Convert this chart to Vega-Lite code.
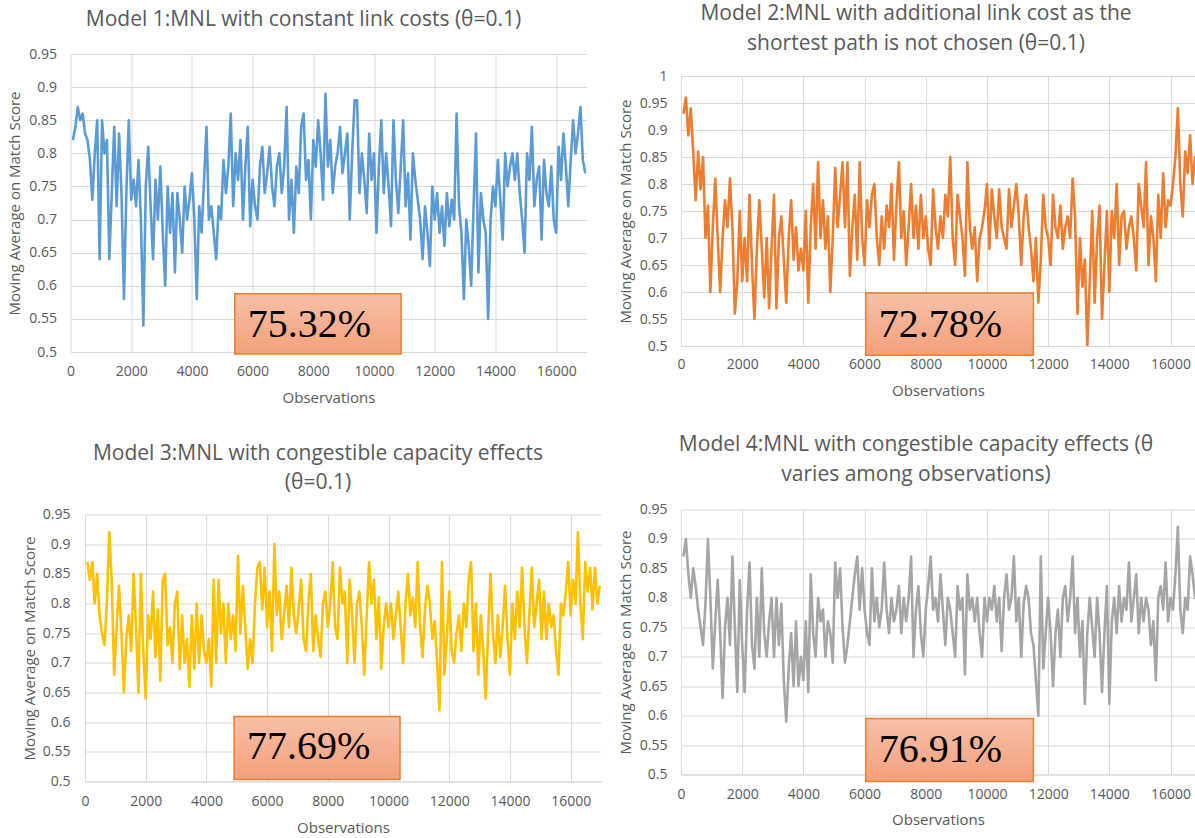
{
"$schema": "https://vega.github.io/schema/vega-lite/v6.json",
"padding": {"left": 7.5, "top": 3, "right": 0, "bottom": 0},
"background": "white",
"config": {
  "view": {"stroke": null},
  "font": "Open Sans",
  "axis": {"labelFont": "Open Sans", "labelFontSize": 14, "labelColor": "#595959", "titleFont": "Open Sans", "titleFontSize": 15, "titleFontWeight": "normal", "titleColor": "#595959", "gridColor": "#D9D9D9", "gridWidth": 1, "ticks": false, "domainColor": "#D9D9D9", "labelFlush": false},
  "axisY": {"domain": false, "labelPadding": 14, "titlePadding": 6},
  "axisX": {"labelPadding": 12, "titlePadding": 12},
  "title": {"font": "Open Sans", "fontSize": 21, "fontWeight": "normal", "color": "#595959", "anchor": "middle", "frame": "group"}
},
"data": {"values": [
{"x":80,"a":0.82,"b":0.93,"c":0.87,"d":0.87},
{"x":160,"a":0.84,"b":0.96,"c":0.84,"d":0.90},
{"x":240,"a":0.87,"b":0.89,"c":0.87,"d":0.84},
{"x":320,"a":0.85,"b":0.94,"c":0.80,"d":0.80},
{"x":400,"a":0.86,"b":0.86,"c":0.85,"d":0.85},
{"x":480,"a":0.83,"b":0.77,"c":0.78,"d":0.82},
{"x":560,"a":0.82,"b":0.86,"c":0.75,"d":0.78},
{"x":640,"a":0.79,"b":0.79,"c":0.73,"d":0.75},
{"x":720,"a":0.73,"b":0.85,"c":0.80,"d":0.72},
{"x":800,"a":0.80,"b":0.70,"c":0.92,"d":0.79},
{"x":880,"a":0.85,"b":0.76,"c":0.84,"d":0.90},
{"x":960,"a":0.64,"b":0.60,"c":0.68,"d":0.80},
{"x":1040,"a":0.85,"b":0.72,"c":0.76,"d":0.68},
{"x":1120,"a":0.80,"b":0.81,"c":0.83,"d":0.76},
{"x":1200,"a":0.82,"b":0.70,"c":0.75,"d":0.83},
{"x":1280,"a":0.64,"b":0.60,"c":0.65,"d":0.74},
{"x":1360,"a":0.74,"b":0.70,"c":0.74,"d":0.63},
{"x":1440,"a":0.84,"b":0.77,"c":0.78,"d":0.75},
{"x":1520,"a":0.72,"b":0.72,"c":0.72,"d":0.80},
{"x":1600,"a":0.83,"b":0.81,"c":0.85,"d":0.72},
{"x":1680,"a":0.74,"b":0.72,"c":0.76,"d":0.87},
{"x":1760,"a":0.58,"b":0.56,"c":0.65,"d":0.75},
{"x":1840,"a":0.74,"b":0.62,"c":0.85,"d":0.64},
{"x":1920,"a":0.85,"b":0.75,"c":0.72,"d":0.83},
{"x":2000,"a":0.73,"b":0.62,"c":0.64,"d":0.72},
{"x":2080,"a":0.76,"b":0.70,"c":0.78,"d":0.64},
{"x":2160,"a":0.72,"b":0.62,"c":0.74,"d":0.78},
{"x":2240,"a":0.79,"b":0.78,"c":0.82,"d":0.86},
{"x":2320,"a":0.70,"b":0.65,"c":0.71,"d":0.72},
{"x":2400,"a":0.54,"b":0.55,"c":0.79,"d":0.68},
{"x":2480,"a":0.75,"b":0.68,"c":0.67,"d":0.80},
{"x":2560,"a":0.81,"b":0.77,"c":0.84,"d":0.70},
{"x":2640,"a":0.72,"b":0.68,"c":0.85,"d":0.85},
{"x":2720,"a":0.64,"b":0.59,"c":0.73,"d":0.74},
{"x":2800,"a":0.76,"b":0.70,"c":0.76,"d":0.70},
{"x":2880,"a":0.70,"b":0.57,"c":0.70,"d":0.76},
{"x":2960,"a":0.78,"b":0.68,"c":0.80,"d":0.80},
{"x":3040,"a":0.68,"b":0.78,"c":0.82,"d":0.70},
{"x":3120,"a":0.60,"b":0.57,"c":0.69,"d":0.80},
{"x":3200,"a":0.75,"b":0.70,"c":0.78,"d":0.72},
{"x":3280,"a":0.68,"b":0.74,"c":0.70,"d":0.79},
{"x":3360,"a":0.74,"b":0.66,"c":0.74,"d":0.66},
{"x":3440,"a":0.62,"b":0.58,"c":0.66,"d":0.59},
{"x":3520,"a":0.74,"b":0.70,"c":0.78,"d":0.68},
{"x":3600,"a":0.70,"b":0.77,"c":0.69,"d":0.74},
{"x":3680,"a":0.65,"b":0.66,"c":0.80,"d":0.65},
{"x":3760,"a":0.75,"b":0.72,"c":0.70,"d":0.76},
{"x":3840,"a":0.70,"b":0.64,"c":0.78,"d":0.65},
{"x":3920,"a":0.73,"b":0.68,"c":0.72,"d":0.70},
{"x":4000,"a":0.77,"b":0.64,"c":0.70,"d":0.66},
{"x":4080,"a":0.70,"b":0.75,"c":0.74,"d":0.76},
{"x":4160,"a":0.58,"b":0.58,"c":0.66,"d":0.64},
{"x":4240,"a":0.72,"b":0.72,"c":0.84,"d":0.84},
{"x":4320,"a":0.68,"b":0.80,"c":0.70,"d":0.74},
{"x":4400,"a":0.76,"b":0.68,"c":0.84,"d":0.70},
{"x":4480,"a":0.84,"b":0.84,"c":0.75,"d":0.80},
{"x":4560,"a":0.70,"b":0.70,"c":0.80,"d":0.76},
{"x":4640,"a":0.72,"b":0.77,"c":0.70,"d":0.78},
{"x":4720,"a":0.68,"b":0.68,"c":0.80,"d":0.70},
{"x":4800,"a":0.64,"b":0.74,"c":0.74,"d":0.76},
{"x":4880,"a":0.72,"b":0.60,"c":0.78,"d":0.74},
{"x":4960,"a":0.70,"b":0.70,"c":0.72,"d":0.69},
{"x":5040,"a":0.79,"b":0.83,"c":0.88,"d":0.86},
{"x":5120,"a":0.74,"b":0.72,"c":0.75,"d":0.80},
{"x":5200,"a":0.78,"b":0.78,"c":0.83,"d":0.85},
{"x":5280,"a":0.86,"b":0.84,"c":0.76,"d":0.75},
{"x":5360,"a":0.72,"b":0.72,"c":0.69,"d":0.69},
{"x":5440,"a":0.80,"b":0.84,"c":0.74,"d":0.72},
{"x":5520,"a":0.76,"b":0.63,"c":0.70,"d":0.76},
{"x":5600,"a":0.82,"b":0.72,"c":0.80,"d":0.80},
{"x":5680,"a":0.70,"b":0.78,"c":0.86,"d":0.84},
{"x":5760,"a":0.78,"b":0.66,"c":0.87,"d":0.87},
{"x":5840,"a":0.84,"b":0.84,"c":0.79,"d":0.78},
{"x":5920,"a":0.69,"b":0.70,"c":0.86,"d":0.85},
{"x":6000,"a":0.76,"b":0.65,"c":0.76,"d":0.78},
{"x":6080,"a":0.72,"b":0.77,"c":0.82,"d":0.74},
{"x":6160,"a":0.70,"b":0.72,"c":0.72,"d":0.72},
{"x":6240,"a":0.78,"b":0.78,"c":0.90,"d":0.85},
{"x":6320,"a":0.81,"b":0.80,"c":0.78,"d":0.76},
{"x":6400,"a":0.74,"b":0.70,"c":0.82,"d":0.80},
{"x":6480,"a":0.77,"b":0.65,"c":0.74,"d":0.75},
{"x":6560,"a":0.81,"b":0.74,"c":0.78,"d":0.78},
{"x":6640,"a":0.75,"b":0.68,"c":0.83,"d":0.86},
{"x":6720,"a":0.72,"b":0.76,"c":0.76,"d":0.78},
{"x":6800,"a":0.78,"b":0.72,"c":0.86,"d":0.74},
{"x":6880,"a":0.80,"b":0.80,"c":0.78,"d":0.80},
{"x":6960,"a":0.74,"b":0.66,"c":0.75,"d":0.76},
{"x":7040,"a":0.78,"b":0.76,"c":0.79,"d":0.78},
{"x":7120,"a":0.87,"b":0.84,"c":0.84,"d":0.82},
{"x":7200,"a":0.70,"b":0.70,"c":0.74,"d":0.74},
{"x":7280,"a":0.76,"b":0.75,"c":0.72,"d":0.80},
{"x":7360,"a":0.68,"b":0.65,"c":0.80,"d":0.76},
{"x":7440,"a":0.78,"b":0.72,"c":0.85,"d":0.80},
{"x":7520,"a":0.74,"b":0.80,"c":0.72,"d":0.87},
{"x":7600,"a":0.84,"b":0.70,"c":0.78,"d":0.70},
{"x":7680,"a":0.86,"b":0.76,"c":0.74,"d":0.78},
{"x":7760,"a":0.76,"b":0.68,"c":0.71,"d":0.82},
{"x":7840,"a":0.79,"b":0.78,"c":0.80,"d":0.74},
{"x":7920,"a":0.70,"b":0.70,"c":0.82,"d":0.70},
{"x":8000,"a":0.82,"b":0.74,"c":0.76,"d":0.78},
{"x":8080,"a":0.78,"b":0.68,"c":0.80,"d":0.82},
{"x":8160,"a":0.85,"b":0.65,"c":0.87,"d":0.87},
{"x":8240,"a":0.80,"b":0.79,"c":0.76,"d":0.78},
{"x":8320,"a":0.73,"b":0.72,"c":0.74,"d":0.80},
{"x":8400,"a":0.89,"b":0.68,"c":0.86,"d":0.76},
{"x":8480,"a":0.78,"b":0.74,"c":0.80,"d":0.84},
{"x":8560,"a":0.82,"b":0.70,"c":0.82,"d":0.78},
{"x":8640,"a":0.74,"b":0.78,"c":0.70,"d":0.72},
{"x":8720,"a":0.78,"b":0.74,"c":0.84,"d":0.80},
{"x":8800,"a":0.80,"b":0.85,"c":0.78,"d":0.78},
{"x":8880,"a":0.84,"b":0.70,"c":0.70,"d":0.74},
{"x":8960,"a":0.77,"b":0.65,"c":0.80,"d":0.70},
{"x":9040,"a":0.80,"b":0.78,"c":0.82,"d":0.82},
{"x":9120,"a":0.83,"b":0.74,"c":0.76,"d":0.78},
{"x":9200,"a":0.70,"b":0.70,"c":0.68,"d":0.80},
{"x":9280,"a":0.80,"b":0.63,"c":0.78,"d":0.67},
{"x":9360,"a":0.88,"b":0.84,"c":0.87,"d":0.84},
{"x":9440,"a":0.88,"b":0.72,"c":0.80,"d":0.78},
{"x":9520,"a":0.74,"b":0.68,"c":0.84,"d":0.80},
{"x":9600,"a":0.80,"b":0.72,"c":0.74,"d":0.76},
{"x":9680,"a":0.76,"b":0.62,"c":0.81,"d":0.80},
{"x":9760,"a":0.71,"b":0.70,"c":0.69,"d":0.74},
{"x":9840,"a":0.83,"b":0.72,"c":0.76,"d":0.70},
{"x":9920,"a":0.76,"b":0.75,"c":0.80,"d":0.80},
{"x":10000,"a":0.80,"b":0.80,"c":0.76,"d":0.76},
{"x":10080,"a":0.68,"b":0.68,"c":0.80,"d":0.80},
{"x":10160,"a":0.78,"b":0.79,"c":0.74,"d":0.78},
{"x":10240,"a":0.85,"b":0.74,"c":0.78,"d":0.82},
{"x":10320,"a":0.74,"b":0.70,"c":0.82,"d":0.76},
{"x":10400,"a":0.80,"b":0.79,"c":0.76,"d":0.80},
{"x":10480,"a":0.75,"b":0.72,"c":0.70,"d":0.71},
{"x":10560,"a":0.69,"b":0.70,"c":0.80,"d":0.80},
{"x":10640,"a":0.85,"b":0.68,"c":0.85,"d":0.84},
{"x":10720,"a":0.76,"b":0.79,"c":0.78,"d":0.78},
{"x":10800,"a":0.71,"b":0.72,"c":0.81,"d":0.80},
{"x":10880,"a":0.78,"b":0.76,"c":0.76,"d":0.87},
{"x":10960,"a":0.85,"b":0.80,"c":0.87,"d":0.76},
{"x":11040,"a":0.72,"b":0.74,"c":0.76,"d":0.80},
{"x":11120,"a":0.77,"b":0.65,"c":0.71,"d":0.70},
{"x":11200,"a":0.67,"b":0.74,"c":0.79,"d":0.79},
{"x":11280,"a":0.80,"b":0.78,"c":0.83,"d":0.82},
{"x":11360,"a":0.76,"b":0.72,"c":0.80,"d":0.80},
{"x":11440,"a":0.73,"b":0.68,"c":0.74,"d":0.74},
{"x":11520,"a":0.70,"b":0.62,"c":0.77,"d":0.72},
{"x":11600,"a":0.64,"b":0.70,"c":0.70,"d":0.66},
{"x":11680,"a":0.72,"b":0.58,"c":0.62,"d":0.60},
{"x":11760,"a":0.68,"b":0.66,"c":0.87,"d":0.87},
{"x":11840,"a":0.63,"b":0.78,"c":0.68,"d":0.68},
{"x":11920,"a":0.75,"b":0.72,"c":0.74,"d":0.74},
{"x":12000,"a":0.70,"b":0.70,"c":0.82,"d":0.80},
{"x":12080,"a":0.74,"b":0.65,"c":0.72,"d":0.74},
{"x":12160,"a":0.68,"b":0.78,"c":0.70,"d":0.65},
{"x":12240,"a":0.72,"b":0.72,"c":0.75,"d":0.74},
{"x":12320,"a":0.66,"b":0.70,"c":0.78,"d":0.78},
{"x":12400,"a":0.74,"b":0.76,"c":0.72,"d":0.70},
{"x":12480,"a":0.69,"b":0.68,"c":0.80,"d":0.80},
{"x":12560,"a":0.73,"b":0.72,"c":0.76,"d":0.82},
{"x":12640,"a":0.70,"b":0.74,"c":0.84,"d":0.76},
{"x":12720,"a":0.86,"b":0.70,"c":0.87,"d":0.80},
{"x":12800,"a":0.72,"b":0.81,"c":0.72,"d":0.87},
{"x":12880,"a":0.68,"b":0.74,"c":0.80,"d":0.74},
{"x":12960,"a":0.58,"b":0.56,"c":0.68,"d":0.80},
{"x":13040,"a":0.70,"b":0.70,"c":0.78,"d":0.70},
{"x":13120,"a":0.66,"b":0.61,"c":0.72,"d":0.76},
{"x":13200,"a":0.60,"b":0.66,"c":0.64,"d":0.62},
{"x":13280,"a":0.72,"b":0.50,"c":0.75,"d":0.74},
{"x":13360,"a":0.83,"b":0.62,"c":0.85,"d":0.80},
{"x":13440,"a":0.62,"b":0.75,"c":0.75,"d":0.75},
{"x":13520,"a":0.74,"b":0.58,"c":0.70,"d":0.70},
{"x":13600,"a":0.70,"b":0.70,"c":0.78,"d":0.80},
{"x":13680,"a":0.68,"b":0.76,"c":0.71,"d":0.74},
{"x":13760,"a":0.55,"b":0.55,"c":0.76,"d":0.64},
{"x":13840,"a":0.70,"b":0.65,"c":0.83,"d":0.74},
{"x":13920,"a":0.75,"b":0.75,"c":0.74,"d":0.82},
{"x":14000,"a":0.72,"b":0.60,"c":0.68,"d":0.62},
{"x":14080,"a":0.79,"b":0.75,"c":0.80,"d":0.76},
{"x":14160,"a":0.73,"b":0.70,"c":0.74,"d":0.80},
{"x":14240,"a":0.67,"b":0.80,"c":0.82,"d":0.74},
{"x":14320,"a":0.80,"b":0.65,"c":0.76,"d":0.82},
{"x":14400,"a":0.75,"b":0.74,"c":0.86,"d":0.76},
{"x":14480,"a":0.78,"b":0.75,"c":0.76,"d":0.80},
{"x":14560,"a":0.80,"b":0.68,"c":0.70,"d":0.78},
{"x":14640,"a":0.76,"b":0.72,"c":0.78,"d":0.86},
{"x":14720,"a":0.80,"b":0.74,"c":0.86,"d":0.76},
{"x":14800,"a":0.74,"b":0.70,"c":0.76,"d":0.80},
{"x":14880,"a":0.70,"b":0.64,"c":0.80,"d":0.84},
{"x":14960,"a":0.65,"b":0.80,"c":0.84,"d":0.74},
{"x":15040,"a":0.80,"b":0.76,"c":0.74,"d":0.80},
{"x":15120,"a":0.76,"b":0.72,"c":0.82,"d":0.76},
{"x":15200,"a":0.84,"b":0.84,"c":0.74,"d":0.80},
{"x":15280,"a":0.72,"b":0.65,"c":0.80,"d":0.78},
{"x":15360,"a":0.76,"b":0.74,"c":0.76,"d":0.72},
{"x":15440,"a":0.78,"b":0.70,"c":0.78,"d":0.76},
{"x":15520,"a":0.67,"b":0.62,"c":0.72,"d":0.66},
{"x":15600,"a":0.79,"b":0.78,"c":0.68,"d":0.80},
{"x":15680,"a":0.74,"b":0.70,"c":0.80,"d":0.82},
{"x":15760,"a":0.72,"b":0.82,"c":0.78,"d":0.78},
{"x":15840,"a":0.78,"b":0.72,"c":0.82,"d":0.86},
{"x":15920,"a":0.70,"b":0.77,"c":0.87,"d":0.76},
{"x":16000,"a":0.68,"b":0.76,"c":0.78,"d":0.80},
{"x":16080,"a":0.81,"b":0.80,"c":0.84,"d":0.78},
{"x":16160,"a":0.76,"b":0.85,"c":0.80,"d":0.84},
{"x":16240,"a":0.83,"b":0.94,"c":0.92,"d":0.92},
{"x":16320,"a":0.78,"b":0.80,"c":0.80,"d":0.78},
{"x":16400,"a":0.72,"b":0.74,"c":0.74,"d":0.74},
{"x":16480,"a":0.79,"b":0.86,"c":0.87,"d":0.80},
{"x":16560,"a":0.85,"b":0.82,"c":0.82,"d":0.78},
{"x":16640,"a":0.80,"b":0.89,"c":0.86,"d":0.87},
{"x":16720,"a":0.83,"b":0.80,"c":0.79,"d":0.84},
{"x":16800,"a":0.87,"b":0.85,"c":0.86,"d":0.80},
{"x":16880,"a":0.79,"b":0.81,"c":0.80,"d":0.85},
{"x":16960,"a":0.77,"b":0.84,"c":0.83,"d":0.80}
]},
"spacing": 16.5,
"align": "none",
"hconcat": [
 {"spacing": 37.5, "align": "none", "vconcat": [
  {"width": 516, "height": 298,
   "title": {"text": "Model 1:MNL with constant link costs (θ=0.1)", "offset": 17, "dx": -25},
   "resolve": {"axis": {"x": "independent", "y": "independent"}},
   "layer": [
    {"mark": {"type": "line", "color": "#5B9BD5", "strokeWidth": 2.6, "clip": true, "strokeJoin": "round"},
     "encoding": {
      "x": {"field": "x", "type": "quantitative", "scale": {"domain": [0, 17000], "nice": false}, "axis": {"title": "Observations", "values": [0,2000,4000,6000,8000,10000,12000,14000,16000], "format": "d"}},
      "y": {"field": "a", "type": "quantitative", "scale": {"domain": [0.5, 0.95], "nice": false, "zero": false}, "axis": {"title": "Moving Average on Match Score", "values": [0.5,0.55,0.6,0.65,0.7,0.75,0.8,0.85,0.9,0.95], "format": "~g"}}
     }},
    {"data": {"values": [{}]},
     "mark": {"type": "rect", "fill": {"gradient": "linear", "x1": 0, "y1": 0, "x2": 0, "y2": 1, "stops": [{"offset": 0, "color": "#F7C0A8"}, {"offset": 1, "color": "#F4A07B"}]}, "stroke": "#ED7D31", "strokeWidth": 1.5},
     "encoding": {"x": {"datum": 5413, "type": "quantitative", "axis": null}, "x2": {"datum": 10891}, "y": {"datum": 0.588, "type": "quantitative", "axis": null}, "y2": {"datum": 0.497}}},
    {"data": {"values": [{}]},
     "mark": {"type": "text", "text": "75.32%", "font": "Liberation Serif", "fontSize": 40, "align": "left", "baseline": "alphabetic", "color": "#000000"},
     "encoding": {"x": {"datum": 5842, "type": "quantitative", "axis": null}, "y": {"datum": 0.5227, "type": "quantitative", "axis": null}}}
   ]},
  {"spacing": -49.5, "align": "none", "hconcat": [
   {"width": 1, "height": 1, "data": {"values": [{}]}, "mark": {"type": "rect", "opacity": 0}, "encoding": {}},
   {"width": 516, "height": 267,
    "title": {"text": ["Model 3:MNL with congestible capacity effects", "(θ=0.1)"], "lineHeight": 29, "offset": 15, "dx": -25},
    "resolve": {"axis": {"x": "independent", "y": "independent"}},
    "layer": [
     {"mark": {"type": "line", "color": "#FFC000", "strokeWidth": 2.6, "clip": true, "strokeJoin": "round"},
      "encoding": {
       "x": {"field": "x", "type": "quantitative", "scale": {"domain": [0, 17000], "nice": false}, "axis": {"title": "Observations", "values": [0,2000,4000,6000,8000,10000,12000,14000,16000], "format": "d", "labelPadding": 12.5, "titlePadding": 12.5}},
       "y": {"field": "c", "type": "quantitative", "scale": {"domain": [0.5, 0.95], "nice": false, "zero": false}, "axis": {"title": "Moving Average on Match Score", "labelPadding": 15, "titlePadding": 5, "values": [0.5,0.55,0.6,0.65,0.7,0.75,0.8,0.85,0.9,0.95], "format": "~g"}}
      }},
     {"data": {"values": [{}]},
      "mark": {"type": "rect", "fill": {"gradient": "linear", "x1": 0, "y1": 0, "x2": 0, "y2": 1, "stops": [{"offset": 0, "color": "#F7C0A8"}, {"offset": 1, "color": "#F4A07B"}]}, "stroke": "#ED7D31", "strokeWidth": 1.5},
      "encoding": {"x": {"datum": 4909, "type": "quantitative", "axis": null}, "x2": {"datum": 10379}, "y": {"datum": 0.6096, "type": "quantitative", "axis": null}, "y2": {"datum": 0.5034}}},
     {"data": {"values": [{}]},
      "mark": {"type": "text", "text": "77.69%", "font": "Liberation Serif", "fontSize": 40, "align": "left", "baseline": "alphabetic", "color": "#000000"},
      "encoding": {"x": {"datum": 5338, "type": "quantitative", "axis": null}, "y": {"datum": 0.5371, "type": "quantitative", "axis": null}}}
    ]}
  ]}
 ]},
 {"spacing": 34.5, "align": "none", "vconcat": [
  {"spacing": -52, "align": "none", "vconcat": [
   {"width": 1, "height": 1, "data": {"values": [{}]}, "mark": {"type": "rect", "opacity": 0}, "encoding": {}},
   {"width": 514, "height": 270,
    "title": {"text": ["Model 2:MNL with additional link cost as the", "shortest path is not chosen (θ=0.1)"], "lineHeight": 30, "offset": 15, "dx": -22},
    "resolve": {"axis": {"x": "independent", "y": "independent"}},
    "layer": [
     {"mark": {"type": "line", "color": "#ED7D31", "strokeWidth": 2.6, "clip": true, "strokeJoin": "round"},
      "encoding": {
       "x": {"field": "x", "type": "quantitative", "scale": {"domain": [0, 16800], "nice": false}, "axis": {"title": "Observations", "values": [0,2000,4000,6000,8000,10000,12000,14000,16000], "format": "d", "labelPadding": 11, "titlePadding": 12.5}},
       "y": {"field": "b", "type": "quantitative", "scale": {"domain": [0.5, 1], "nice": false, "zero": false}, "axis": {"title": "Moving Average on Match Score", "values": [0.5,0.55,0.6,0.65,0.7,0.75,0.8,0.85,0.9,0.95,1], "format": "~g"}}
      }},
     {"data": {"values": [{}]},
      "mark": {"type": "rect", "fill": {"gradient": "linear", "x1": 0, "y1": 0, "x2": 0, "y2": 1, "stops": [{"offset": 0, "color": "#F7C0A8"}, {"offset": 1, "color": "#F4A07B"}]}, "stroke": "#ED7D31", "strokeWidth": 1.5},
      "encoding": {"x": {"datum": 6036, "type": "quantitative", "axis": null}, "x2": {"datum": 11517}, "y": {"datum": 0.598, "type": "quantitative", "axis": null}, "y2": {"datum": 0.483}}},
     {"data": {"values": [{}]},
      "mark": {"type": "text", "text": "72.78%", "font": "Liberation Serif", "fontSize": 40, "align": "left", "baseline": "alphabetic", "color": "#000000"},
      "encoding": {"x": {"datum": 6460, "type": "quantitative", "axis": null}, "y": {"datum": 0.5167, "type": "quantitative", "axis": null}}}
    ]}
  ]},
  {"width": 514, "height": 265,
   "title": {"text": ["Model 4:MNL with congestible capacity effects (θ", "varies among observations)"], "lineHeight": 30, "offset": 18, "dx": -22},
   "resolve": {"axis": {"x": "independent", "y": "independent"}},
   "layer": [
    {"mark": {"type": "line", "color": "#A5A5A5", "strokeWidth": 2.6, "clip": true, "strokeJoin": "round"},
     "encoding": {
      "x": {"field": "x", "type": "quantitative", "scale": {"domain": [0, 16800], "nice": false}, "axis": {"title": "Observations", "values": [0,2000,4000,6000,8000,10000,12000,14000,16000], "format": "d", "labelPadding": 13, "titlePadding": 11}},
      "y": {"field": "d", "type": "quantitative", "scale": {"domain": [0.5, 0.95], "nice": false, "zero": false}, "axis": {"title": "Moving Average on Match Score", "values": [0.5,0.55,0.6,0.65,0.7,0.75,0.8,0.85,0.9,0.95], "format": "~g"}}
     }},
    {"data": {"values": [{}]},
     "mark": {"type": "rect", "fill": {"gradient": "linear", "x1": 0, "y1": 0, "x2": 0, "y2": 1, "stops": [{"offset": 0, "color": "#F7C0A8"}, {"offset": 1, "color": "#F4A07B"}]}, "stroke": "#ED7D31", "strokeWidth": 1.5},
     "encoding": {"x": {"datum": 6036, "type": "quantitative", "axis": null}, "x2": {"datum": 11517}, "y": {"datum": 0.5951, "type": "quantitative", "axis": null}, "y2": {"datum": 0.488}}},
    {"data": {"values": [{}]},
     "mark": {"type": "text", "text": "76.91%", "font": "Liberation Serif", "fontSize": 40, "align": "left", "baseline": "alphabetic", "color": "#000000"},
     "encoding": {"x": {"datum": 6460, "type": "quantitative", "axis": null}, "y": {"datum": 0.522, "type": "quantitative", "axis": null}}}
   ]}
 ]}
]
}
